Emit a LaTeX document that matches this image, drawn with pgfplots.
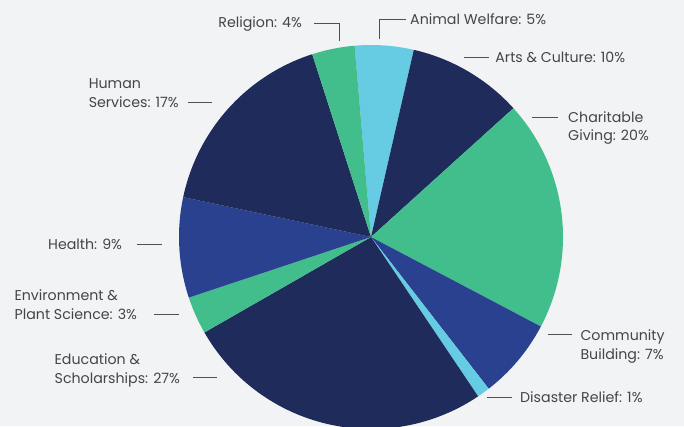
\documentclass[border=0pt]{standalone}
\usepackage{pgfplots}
\pgfplotsset{compat=1.18}
\usepackage{fontspec}
\setmainfont{Poppins}
\definecolor{bg}{HTML}{F2F3F5}
\definecolor{cNavy}{HTML}{1E2B5B}
\definecolor{cGreen}{HTML}{42BD8C}
\definecolor{cLight}{HTML}{66CCE3}
\definecolor{cBlue}{HTML}{2A4190}
\definecolor{txt}{HTML}{454545}
\definecolor{lead}{HTML}{505050}
\begin{document}
\begin{tikzpicture}
\begin{axis}[
  hide axis, scale only axis,
  width=684pt, height=426pt,
  xmin=0, xmax=684, ymin=0, ymax=426,
  clip=true,
]
% background
\addplot[fill=bg, draw=none] coordinates {(0,0) (684,0) (684,426) (0,426)} -- cycle;
% pie: shares in percent, clockwise from the Religion/Animal Welfare boundary
\pgfplotsextra{
  \pgfmathsetmacro\curang{94.9}
  \foreach \v/\c in {4.94/cLight, 9.72/cNavy, 19.42/cGreen, 6.78/cBlue, 1.08/cLight,
                     26.14/cNavy, 3.17/cGreen, 8.44/cBlue, 16.72/cNavy, 3.59/cGreen}{
    \pgfmathsetmacro\nextang{\curang-3.6*\v}
    \fill[\c] (axis cs:371,189) -- (axis cs:{371+192*cos(\curang)},{189+192*sin(\curang)})
       arc[start angle=\curang, end angle=\nextang, radius=192pt] -- cycle;
    \global\let\curang\nextang
  }
}
% leader lines
\begin{scope}[lead, line width=1pt]
\draw (axis cs:314,402.7) -- (axis cs:339,402.7) -- (axis cs:339,385);
\draw (axis cs:405.8,406) -- (axis cs:379.6,406) -- (axis cs:379.6,386.7);
\draw (axis cs:463.8,368.7) -- (axis cs:488.7,368.7);
\draw (axis cs:532.3,308.7) -- (axis cs:557.6,308.7);
\draw (axis cs:547.6,91.7) -- (axis cs:572.4,91.7);
\draw (axis cs:487.3,28.7) -- (axis cs:511.8,28.7);
\draw (axis cs:193.3,48.3) -- (axis cs:217.3,48.3);
\draw (axis cs:154,111.7) -- (axis cs:179,111.7);
\draw (axis cs:136.6,181.7) -- (axis cs:162.3,181.7);
\draw (axis cs:187.6,323.3) -- (axis cs:212,323.3);
\end{scope}
% labels
\begin{scope}[every node/.style={anchor=base west, inner sep=0pt, text=txt, font=\fontsize{14.2}{17}\selectfont}]
\node at (axis cs:218.2,398.3) {Religion: 4\%};
\node at (axis cs:410,401.7) {Animal Welfare: 5\%};
\node at (axis cs:495.2,363.3) {Arts \& Culture: 10\%};
\node at (axis cs:568,303.7) {Charitable};
\node at (axis cs:568,285) {Giving: 20\%};
\node at (axis cs:580.3,85.3) {Community};
\node at (axis cs:580.3,66.7) {Building: 7\%};
\node at (axis cs:520,23.7) {Disaster Relief: 1\%};
\node at (axis cs:54.5,61.7) {Education \&};
\node at (axis cs:54.5,42.7) {Scholarships: 27\%};
\node at (axis cs:14.4,125.3) {Environment \&};
\node at (axis cs:14.4,106.7) {Plant Science: 3\%};
\node at (axis cs:48,177) {Health: 9\%};
\node at (axis cs:88.6,337.7) {Human};
\node at (axis cs:88.6,318.7) {Services: 17\%};
\end{scope}
\end{axis}
\pgfresetboundingbox
\path (0,0) rectangle (684pt,426pt);
\end{tikzpicture}
\end{document}
